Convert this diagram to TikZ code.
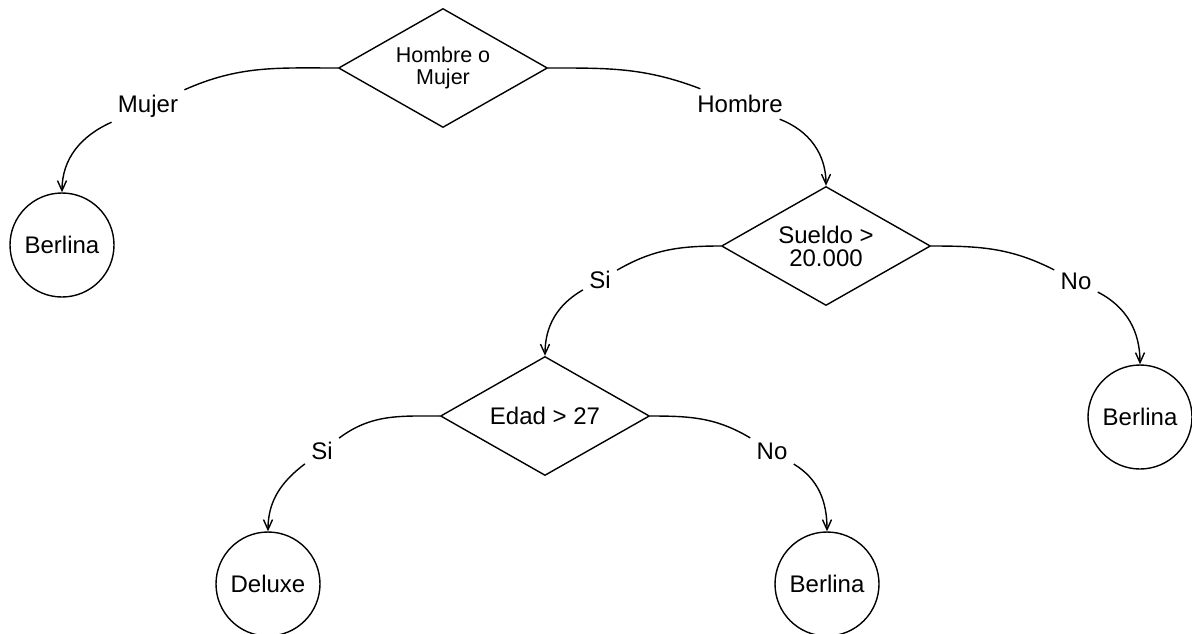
\documentclass[tikz,border=0pt]{standalone}
\usepackage{fontspec}
\setmainfont{Liberation Sans}
\usetikzlibrary{shapes.geometric,arrows.meta}
\begin{document}
\begin{tikzpicture}[x=0.5pt,y=-0.5pt,
  every node/.style={font=\fontsize{12}{11.5}\selectfont},
  decision/.style={draw, diamond, aspect=1.75, minimum width=104.5pt, minimum height=59.5pt, inner sep=0pt, align=center, line width=0.7pt},
  leaf/.style={draw, circle, minimum size=52pt, inner sep=0pt, line width=0.7pt},
  lbl/.style={inner sep=3pt},
  conn/.style={line width=0.7pt},
  arr/.style={conn, -{Straight Barb[length=5pt,width=4.5pt]}}
]
\useasboundingbox[fill=white] (0,0) rectangle (1192,633);
% decisions and leaves
\node[decision, font=\fontsize{10.75}{11}\selectfont] (d1) at (443,68) {Hombre o\\Mujer};
\node[leaf] (b1) at (62,245) {Berlina};
\node[decision] (d2) at (826,246) {Sueldo >\\20.000};
\node[leaf] (b2) at (1140,417) {Berlina};
\node[decision] (d3) at (545,416) {Edad > 27};
\node[leaf] (dl) at (268,584) {Deluxe};
\node[leaf] (b3) at (827,584) {Berlina};
% labels
\node[lbl] (lmujer) at (148,106) {Mujer};
\node[lbl] (lhombre) at (740,104) {Hombre};
\node[lbl] (lsi1) at (600,280) {Si};
\node[lbl] (lno1) at (1076,281) {No};
\node[lbl] (lsi2) at (322,451) {Si};
\node[lbl] (lno2) at (772,451) {No};
% connectors
\draw[conn] (d1.west) to[out=180,in=24] (lmujer);
\draw[arr] (lmujer) to[out=204,in=90] (b1.north);
\draw[conn] (d1.east) to[out=0,in=159] (lhombre);
\draw[arr] (lhombre) to[out=-21,in=90] (d2.north);
\draw[conn] (d2.west) to[out=180,in=30] (lsi1);
\draw[arr] (lsi1) to[out=210,in=90] (d3.north);
\draw[conn] (d2.east) to[out=0,in=153] (lno1);
\draw[arr] (lno1) to[out=-27,in=90] (b2.north);
\draw[conn] (d3.west) to[out=180,in=37] (lsi2);
\draw[arr] (lsi2) to[out=217,in=90] (dl.north);
\draw[conn] (d3.east) to[out=0,in=149] (lno2);
\draw[arr] (lno2) to[out=-31,in=90] (b3.north);
\end{tikzpicture}
\end{document}
